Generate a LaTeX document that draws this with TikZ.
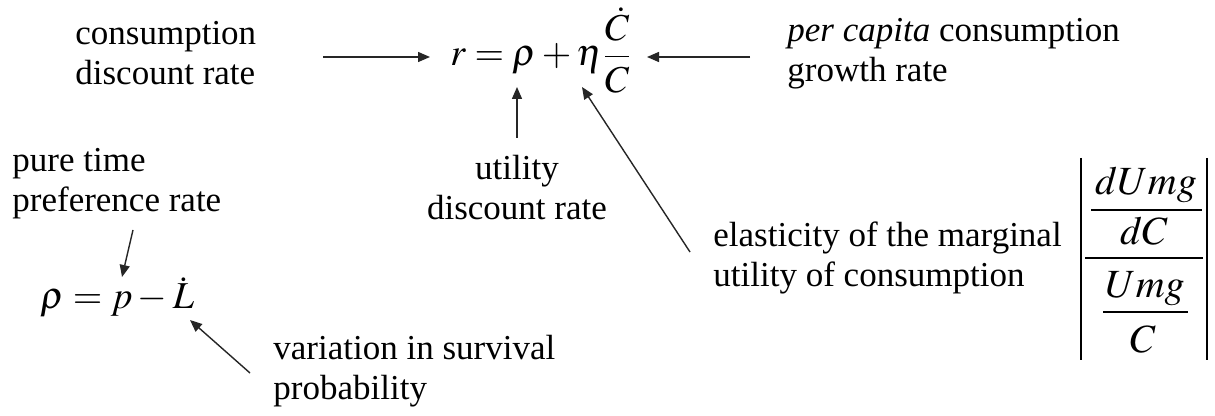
\documentclass[tikz,border=0pt]{standalone}
\usepackage{amsmath}
\usepackage{mathptmx}
\usepackage{fontspec}
\setmainfont{Liberation Serif}
\usetikzlibrary{arrows.meta}
\tikzset{
  txt/.style ={font=\fontsize{17.5}{20}\selectfont,inner sep=0pt},
  lbl/.style ={txt,align=left,anchor=base west},
  eqn/.style ={font=\fontsize{19}{22}\selectfont,inner sep=0pt,anchor=base west},
  frc/.style ={font=\fontsize{20}{24}\selectfont,inner sep=0pt,anchor=base},
  rul/.style ={draw=black,line width=0.7pt},
  ptr/.style ={-{Triangle[length=6pt,width=5pt]},draw=black!85,line width=0.7pt},
}

\begin{document}
\begin{tikzpicture}[x=0.5pt, y=-0.5pt]

\useasboundingbox[fill=white] (0,0) rectangle (1215,416);

%% equations
\node[eqn] (rate) at (450,66) {$r=\rho+\eta\dfrac{\dot C}{C}$};
\node[eqn] (rho)  at (40,309) {$\rho=p-\dot L$};

%% elasticity, |(dUmg/dC)/(Umg/C)|
\node[frc] (dumg) at (1146,195) {$dUmg$};
\node[frc] (dc)   at (1144,245) {$dC$};
\node[frc] (umg)  at (1145,298) {$Umg$};
\node[frc] (cc)   at (1143,353) {$C$};
\draw[rul] (1091,210) -- (1202,210);
\draw[rul] (1085,258) -- (1203,258);
\draw[rul] (1103,312) -- (1188,312);
\draw[rul] (1081,158) -- (1081,360);
\draw[rul] (1207,158) -- (1207,360);

%% labels
\node[lbl] (cdr) at (75,85)   {consumption\\discount rate};
\node[lbl] (pcg) at (787,82)  {\textit{per capita} consumption\\growth rate};
\node[txt,align=center,anchor=base] (udr) at (517,220) {utility\\discount rate};
\node[lbl] (ptp) at (12,212)  {pure time\\preference rate};
\node[lbl] (vsp) at (273,400) {variation in survival\\probability};
\node[lbl] (emu) at (713,287) {elasticity of the marginal\\utility of consumption};

%% arrow ends
\coordinate (cdrT) at (323,57);  \coordinate (cdrH) at (430,57);
\coordinate (pcgT) at (750,57);  \coordinate (pcgH) at (647,57);
\coordinate (udrT) at (517,138); \coordinate (udrH) at (517,87);
\coordinate (emuT) at (690,252); \coordinate (emuH) at (582,87);
\coordinate (ptpT) at (133,230); \coordinate (ptpH) at (122,277);
\coordinate (vspT) at (250,373); \coordinate (vspH) at (190,320);

\draw[ptr] (cdrT) -- (cdrH);
\draw[ptr] (pcgT) -- (pcgH);
\draw[ptr] (udrT) -- (udrH);
\draw[ptr] (emuT) -- (emuH);
\draw[ptr] (ptpT) -- (ptpH);
\draw[ptr] (vspT) -- (vspH);

\end{tikzpicture}
\end{document}
